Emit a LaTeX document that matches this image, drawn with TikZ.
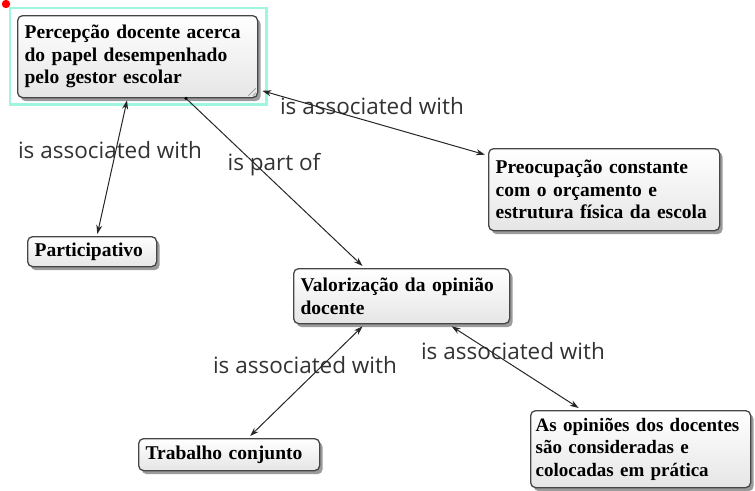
\documentclass[tikz,border=0pt]{standalone}
\usepackage{fontspec}
\setmainfont{Liberation Serif}
\newfontfamily\linkfont{Open Sans}
\usetikzlibrary{shadows,calc,arrows.meta}

\definecolor{selcyan}{RGB}{160,245,225}
\definecolor{boxedge}{RGB}{70,70,70}
\definecolor{linktext}{RGB}{50,50,50}

\tikzset{
  concept/.style={draw=boxedge, line width=1.3pt, rounded corners=5pt,
    top color=white, bottom color=black!10,
    drop shadow={shadow xshift=3pt, shadow yshift=-3.5pt, fill=black!65, opacity=0.6},
    font=\bfseries\fontsize{19.5}{22.5}\selectfont, align=left,
    anchor=north west, inner xsep=7pt, inner ysep=2pt, text=black},
  linklabel/.style={font=\linkfont\fontsize{22.5}{26}\selectfont, text=linktext, inner sep=0pt},
  link/.style={line width=1pt, black!85},
  bothways/.style={link, {Stealth[length=9pt,width=6pt]}-{Stealth[length=9pt,width=6pt]}},
  oneway/.style={link, -{Stealth[length=9pt,width=6pt]}}
}

\begin{document}
\begin{tikzpicture}[x=1pt,y=-1pt]
\useasboundingbox (0,0) rectangle (755,490);

% concepts
\node[concept, text width=226pt, minimum height=82pt] (top) at (17,15)
  {Percepção docente acerca\\do papel desempenhado\\pelo gestor escolar};
\node[concept, text width=217pt, minimum height=82pt] (preoc) at (488,148)
  {Preocupação constante\\com o orçamento e\\estrutura física da escola};
\node[concept, text width=115pt, minimum height=30pt] (part) at (27,236)
  {Participativo};
\node[concept, text width=202pt, minimum height=55pt] (valor) at (293,268)
  {Valorização da opinião\\docente};
\node[concept, text width=167pt, minimum height=32pt] (trab) at (138,438)
  {Trabalho conjunto};
\node[concept, font=\bfseries\fontsize{19}{22.5}\selectfont, text width=210pt,
      inner xsep=5pt, minimum height=77pt] (opin) at (530,410)
  {\mbox{As opiniões dos docentes}\\são consideradas e\\colocadas em prática};

% selection frame and marker of the top concept
\draw[selcyan, line width=2.5pt] ($(top.north west)+(-7,-7)$) rectangle ($(top.south east)+(8,6)$);
\fill[red] (6,4) circle (4.2);
\draw[black!40, line width=0.6pt] ($(top.south east)+(-10,-2.5)$) -- ($(top.south east)+(-2.5,-10)$)
  ($(top.south east)+(-5.5,-2.5)$) -- ($(top.south east)+(-2.5,-5.5)$);

% link labels
\node[linklabel] (l1) at (110,150) {is associated with};
\node[linklabel] (l2) at (274,165) {is part of};
\node[linklabel] (l3) at (372,106) {is associated with};
\node[linklabel] (l4) at (305,365) {is associated with};
\node[linklabel] (l5) at (513,351) {is associated with};

% connectors
\draw[bothways] ($(top.south west)!0.456!(top.south east)+(0,2)$) -- ($(part.north west)!0.54!(part.north east)+(0,-2)$);
\draw[oneway] ($(top.south west)!0.70!(top.south east)$) -- ($(valor.north west)!0.32!(valor.north east)+(0,-2)$);
\fill[black] ($(top.south west)!0.70!(top.south east)$) circle (1.7);
\draw[bothways] ($(top.north east)!0.91!(top.south east)+(4,0)$) -- ($(preoc.north west)!0.08!(preoc.south west)+(-3,0)$);
\draw[bothways] ($(valor.south west)!0.32!(valor.south east)+(0,2)$) -- ($(trab.north west)!0.615!(trab.north east)+(0,-2)$);
\draw[bothways] ($(valor.south west)!0.73!(valor.south east)+(0,2)$) -- ($(opin.north west)!0.22!(opin.north east)+(0,-2)$);
\end{tikzpicture}
\end{document}
